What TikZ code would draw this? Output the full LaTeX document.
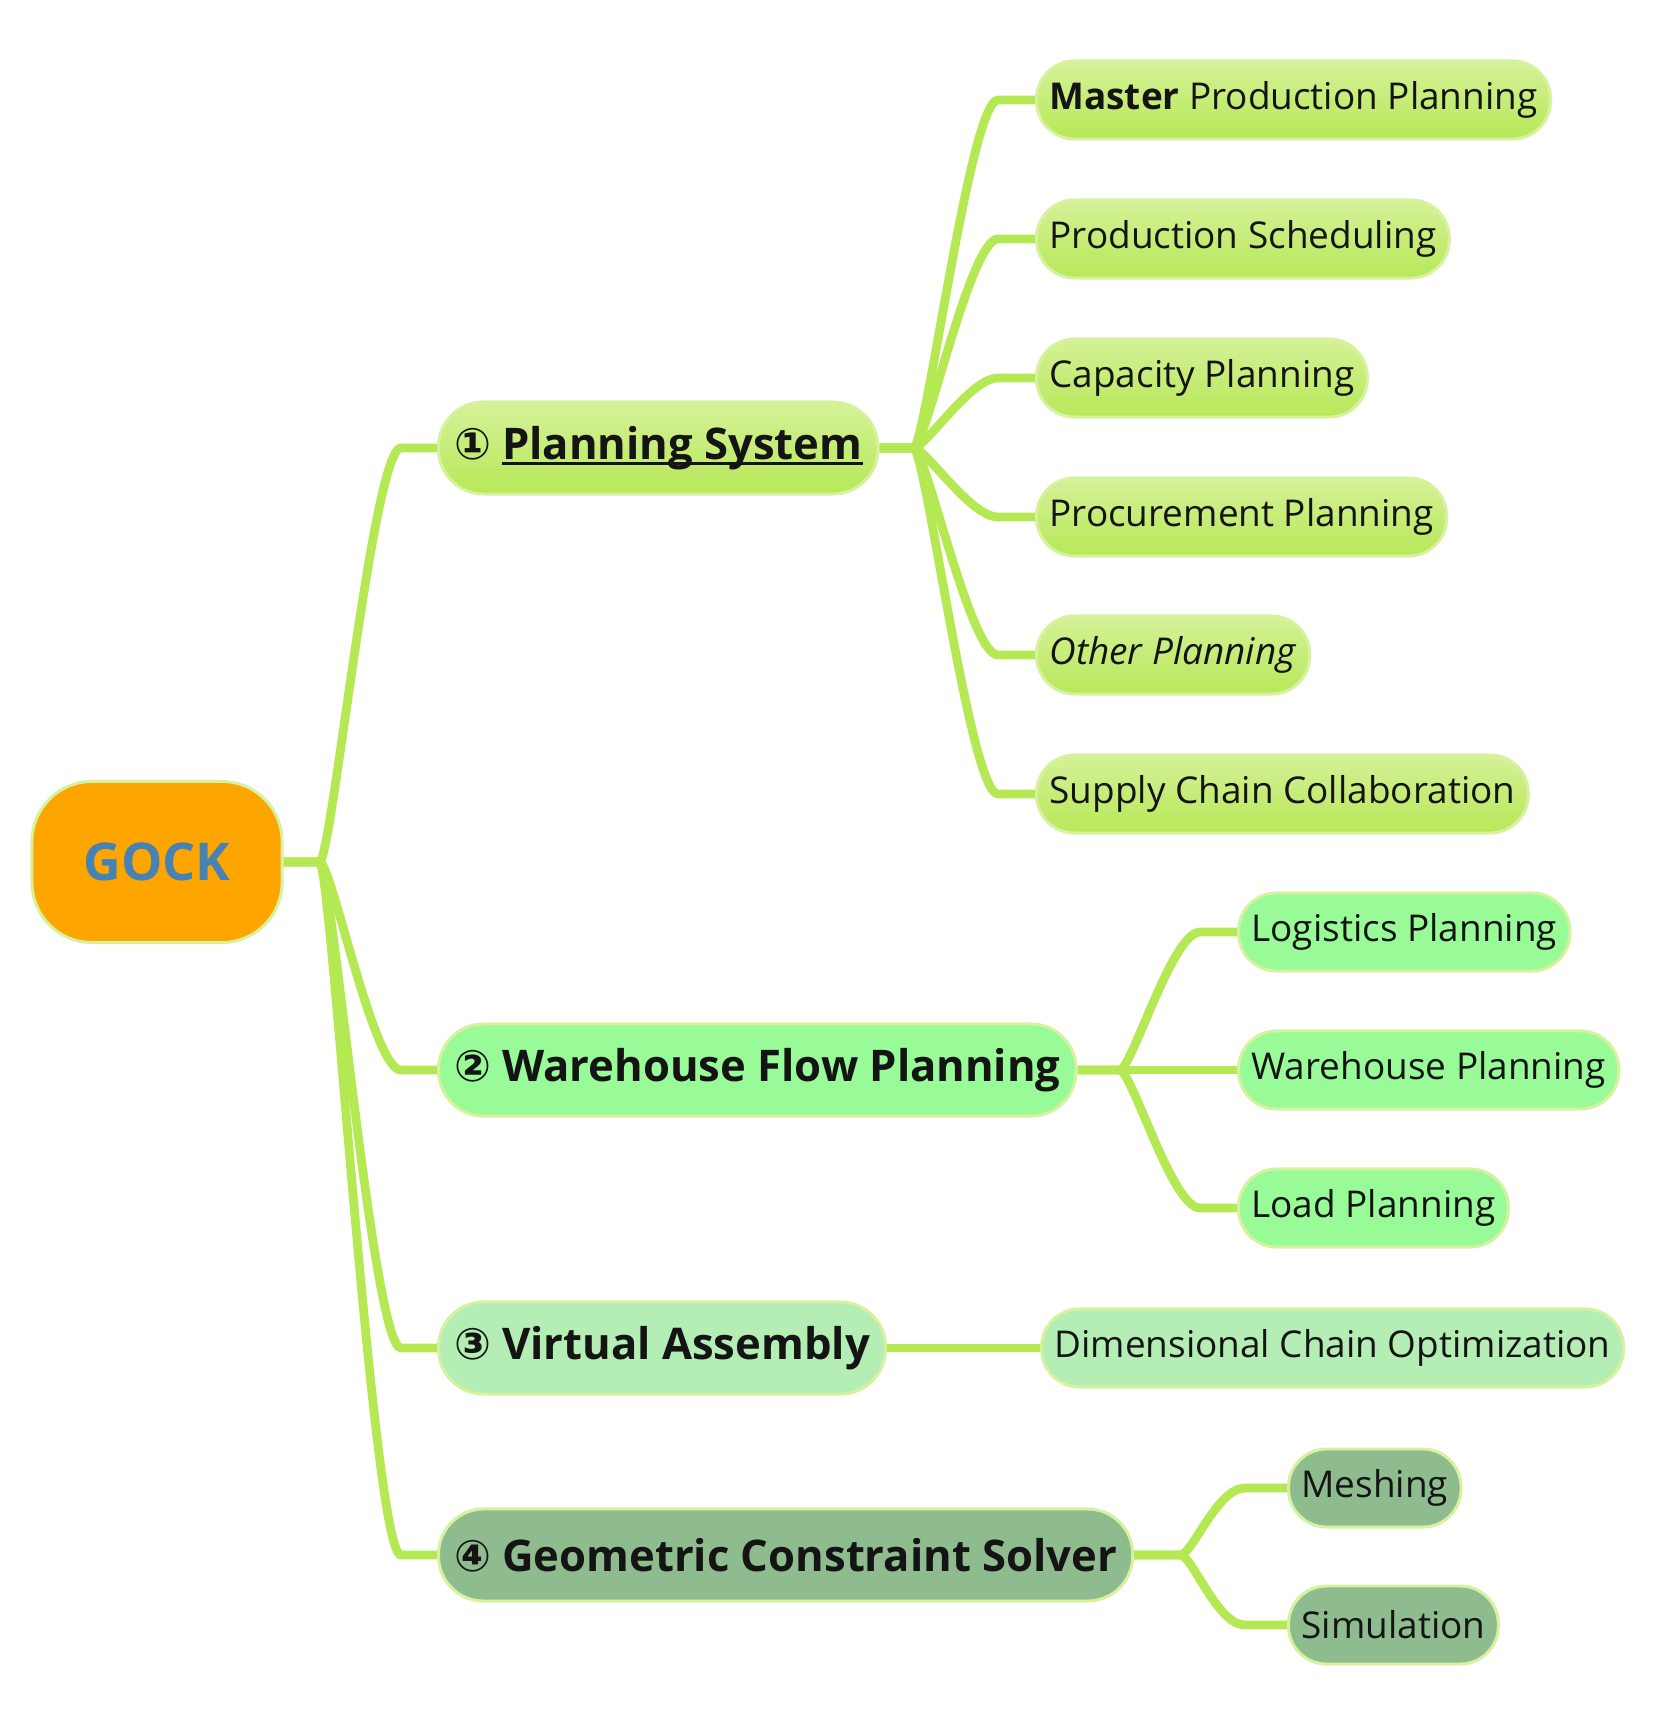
\documentclass[tikz,border=0pt]{standalone}
\usepackage{fontspec}
\setmainfont{Open Sans}
\newfontfamily\circfont{DejaVu Sans}
\usetikzlibrary{backgrounds}
\definecolor{linkgreen}{RGB}{181,233,83}
\definecolor{rimgreen}{RGB}{214,242,158}
\definecolor{plantop}{RGB}{213,241,152}
\definecolor{planbot}{RGB}{183,232,88}
\definecolor{wareg}{RGB}{152,251,152}
\definecolor{virtg}{RGB}{180,238,180}
\definecolor{geomg}{RGB}{143,188,143}
\definecolor{rootorange}{RGB}{255,165,0}
\definecolor{rootblue}{RGB}{70,130,180}
\definecolor{inkblack}{RGB}{20,20,20}
\newcommand\circnum[1]{{\circfont #1}}
\newcommand\ulbar[1]{\setbox0=\hbox{#1}\rlap{\rule[-0.14em]{\wd0}{0.08em}}\box0}
\tikzset{
  >=latex,
  idea/.style={draw=rimgreen,line width=0.85pt,rounded corners=0.38cm,
    minimum height=0.78cm,inner xsep=0.13cm,inner ysep=0pt,anchor=west,
    text=inkblack,font=\fontsize{10.5}{12}\selectfont},
  topic/.style={idea,rounded corners=0.45cm,minimum height=0.92cm,
    inner xsep=0.155cm,font=\fontsize{12.4}{14}\selectfont\bfseries},
  plan/.style={top color=plantop,bottom color=planbot},
  branch/.style={draw=linkgreen,line width=2.5pt}
}
\begin{document}
\begin{tikzpicture}[x=0.01cm,y=-0.01cm]
      \useasboundingbox (0,0) rectangle (1659,1728);
      \node[draw=rimgreen,line width=0.85pt,fill=rootorange,rounded corners=0.6cm,
        minimum width=2.5cm,minimum height=1.61cm,text=rootblue,
        font=\fontsize{14.8}{17}\selectfont\bfseries] (root) at (157,862) {GOCK};
      \node[topic,plan] (plan) at (437,448) {\circnum{①} \ulbar{Planning System}};
      \node[topic,fill=wareg] (ware) at (437,1070) {\circnum{②} Warehouse Flow Planning};
      \node[topic,fill=virtg] (virt) at (437,1348) {\circnum{③} Virtual Assembly};
      \node[topic,fill=geomg] (geom) at (437,1555) {\circnum{④} Geometric Constraint Solver};
      \node[idea,plan] (mpp) at (1035,100) {\textbf{Master} Production Planning};
      \node[idea,plan] (sched) at (1035,239) {Production Scheduling};
      \node[idea,plan] (capa) at (1035,378) {Capacity Planning};
      \node[idea,plan] (proc) at (1035,517) {Procurement Planning};
      \node[idea,plan] (other) at (1035,655) {\textit{Other Planning}};
      \node[idea,plan] (supply) at (1035,794) {Supply Chain Collaboration};
      \node[idea,fill=wareg] (logi) at (1237,932) {Logistics Planning};
      \node[idea,fill=wareg] (whp) at (1237,1070) {Warehouse Planning};
      \node[idea,fill=wareg] (load) at (1237,1208) {Load Planning};
      \node[idea,fill=virtg] (dim) at (1040,1348) {Dimensional Chain Optimization};
      \node[idea,fill=geomg] (mesh) at (1287,1488) {Meshing};
      \node[idea,fill=geomg] (simu) at (1287,1625) {Simulation};
      \begin{scope}[on background layer]
        \draw[branch] (root.east) -- ++(36,0) .. controls +(12,0) and +(-28,0) .. ([xshift=-0.36cm]plan.west) -- (plan.west);
        \draw[branch] (root.east) -- ++(36,0) .. controls +(12,0) and +(-28,0) .. ([xshift=-0.36cm]ware.west) -- (ware.west);
        \draw[branch] (root.east) -- ++(36,0) .. controls +(12,0) and +(-28,0) .. ([xshift=-0.36cm]virt.west) -- (virt.west);
        \draw[branch] (root.east) -- ++(36,0) .. controls +(12,0) and +(-28,0) .. ([xshift=-0.36cm]geom.west) -- (geom.west);
        \draw[branch] (plan.east) -- ++(34,0) .. controls +(12,0) and +(-28,0) .. ([xshift=-0.37cm]mpp.west) -- (mpp.west);
        \draw[branch] (plan.east) -- ++(34,0) .. controls +(12,0) and +(-28,0) .. ([xshift=-0.37cm]sched.west) -- (sched.west);
        \draw[branch] (plan.east) -- ++(34,0) .. controls +(12,0) and +(-28,0) .. ([xshift=-0.37cm]capa.west) -- (capa.west);
        \draw[branch] (plan.east) -- ++(34,0) .. controls +(12,0) and +(-28,0) .. ([xshift=-0.37cm]proc.west) -- (proc.west);
        \draw[branch] (plan.east) -- ++(34,0) .. controls +(12,0) and +(-28,0) .. ([xshift=-0.37cm]other.west) -- (other.west);
        \draw[branch] (plan.east) -- ++(34,0) .. controls +(12,0) and +(-28,0) .. ([xshift=-0.37cm]supply.west) -- (supply.west);
        \draw[branch] (ware.east) -- ++(42,0) .. controls +(12,0) and +(-28,0) .. ([xshift=-0.37cm]logi.west) -- (logi.west);
        \draw[branch] (ware.east) -- (whp.west);
        \draw[branch] (ware.east) -- ++(42,0) .. controls +(12,0) and +(-28,0) .. ([xshift=-0.37cm]load.west) -- (load.west);
        \draw[branch] (virt.east) -- (dim.west);
        \draw[branch] (geom.east) -- ++(46,0) .. controls +(12,0) and +(-28,0) .. ([xshift=-0.42cm]mesh.west) -- (mesh.west);
        \draw[branch] (geom.east) -- ++(46,0) .. controls +(12,0) and +(-28,0) .. ([xshift=-0.42cm]simu.west) -- (simu.west);
      \end{scope}
    \end{tikzpicture}
\end{document}
